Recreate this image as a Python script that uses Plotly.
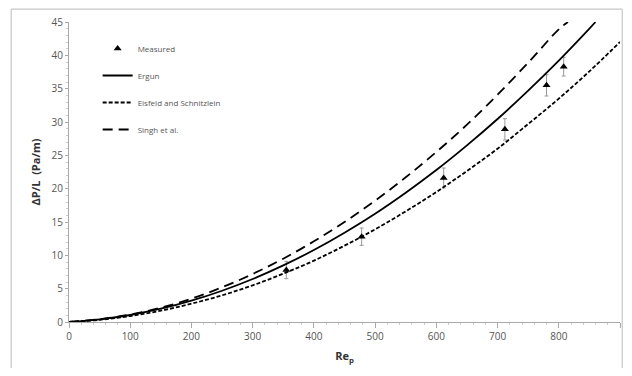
import plotly.graph_objects as go

# Measured data
meas_re = [355, 478, 612, 712, 780, 808]
meas_dp = [7.8, 12.8, 21.6, 28.9, 35.5, 38.3]
meas_err = [1.3, 1.3, 1.5, 1.6, 1.6, 1.4]

# Ergun correlation
ergun_re = [0, 50, 100, 150, 200, 250, 300, 350, 400, 450, 500, 550, 600, 650, 700, 750, 800, 850, 860]
ergun_dp = [0, 0.39, 1.05, 1.99, 3.2, 4.69, 6.45, 8.49, 10.8, 13.4, 16.25, 19.4, 22.8, 26.5, 30.45, 34.7, 39.2, 44.0, 45.0]

# Eisfeld and Schnitzlein
eis_re = [0, 50, 100, 150, 200, 250, 300, 350, 400, 450, 500, 550, 600, 650, 700, 750, 800, 850, 900]
eis_dp = [0, 0.33, 0.9, 1.7, 2.74, 4.0, 5.5, 7.25, 9.2, 11.45, 13.9, 16.6, 19.5, 22.65, 26.0, 29.7, 33.5, 37.6, 42.0]

# Singh et al.
singh_re = [0, 50, 100, 150, 200, 250, 300, 350, 400, 450, 500, 550, 600, 650, 700, 750, 800, 815]
singh_dp = [0, 0.42, 1.12, 2.15, 3.5, 5.2, 7.2, 9.5, 12.1, 15.0, 18.2, 21.7, 25.5, 29.6, 34.1, 38.9, 43.9, 45.0]

x_ticks = [0, 100, 200, 300, 400, 500, 600, 700, 800, 900]
y_ticks = [0, 5, 10, 15, 20, 25, 30, 35, 40, 45]

txt = "#555555"
fig = go.Figure()
fig.add_trace(go.Scatter(
    x=meas_re, y=meas_dp, mode="markers", name="Measured", legendgroup="a",
    marker=dict(symbol="triangle-up", size=7, color="black"),
    error_y=dict(type="data", array=meas_err, color="#999999", thickness=1, width=2),
))
fig.add_trace(go.Scatter(
    x=ergun_re, y=ergun_dp, mode="lines", name="Ergun", legendgroup="b",
    line=dict(color="black", width=1.8, shape="spline"),
))
fig.add_trace(go.Scatter(
    x=eis_re, y=eis_dp, mode="lines", name="Eisfeld and Schnitzlein", legendgroup="c",
    line=dict(color="black", width=1.8, dash="4px,2px", shape="spline"),
))
fig.add_trace(go.Scatter(
    x=singh_re, y=singh_dp, mode="lines", name="Singh et al.", legendgroup="d",
    line=dict(color="black", width=1.8, dash="10px,6px", shape="spline"),
))

fig.update_layout(
    width=616, height=360,
    margin=dict(l=61, r=4, t=14, b=46, autoexpand=False),
    paper_bgcolor="white", plot_bgcolor="white",
    font=dict(family="Open Sans", size=10, color=txt),
    showlegend=True,
    legend=dict(
        x=0.052, y=0.96, xanchor="left", yanchor="top",
        font=dict(size=8, color=txt), bgcolor="rgba(0,0,0,0)",
        tracegroupgap=8, itemwidth=30,
    ),
    xaxis=dict(
        range=[0, 900], tickvals=x_ticks, ticktext=[str(v) for v in x_ticks],
        automargin=False,
        showgrid=False, zeroline=False, showline=True, linecolor="#aaaaaa", linewidth=1,
        ticks="outside", ticklen=5, tickcolor="#aaaaaa",
        minor=dict(ticks="outside", ticklen=2, dtick=20, tickcolor="#cccccc"),
        tickfont=dict(size=10, color=txt),
        title=dict(text="<b>Re<sub>p</sub></b>", font=dict(size=11, color="#333333"), standoff=10),
    ),
    yaxis=dict(
        range=[0, 45], tickvals=y_ticks, ticktext=[str(v) for v in y_ticks],
        automargin=False,
        showgrid=False, zeroline=False, showline=True, linecolor="#aaaaaa", linewidth=1,
        ticks="outside", ticklen=3, tickcolor="#aaaaaa",
        minor=dict(ticks="outside", ticklen=2, dtick=1, tickcolor="#cccccc"),
        tickfont=dict(size=10, color=txt),
        title=dict(text="<b>ΔP/L  (Pa/m)</b>", font=dict(size=11, color="#333333"), standoff=8),
    ),
    shapes=[dict(type="rect", xref="paper", yref="paper",
                 x0=-0.105, x1=1.004, y0=-0.2, y1=1.043,
                 line=dict(color="#bbbbbb", width=1), layer="below")],
)

fig.write_html("out.html")
